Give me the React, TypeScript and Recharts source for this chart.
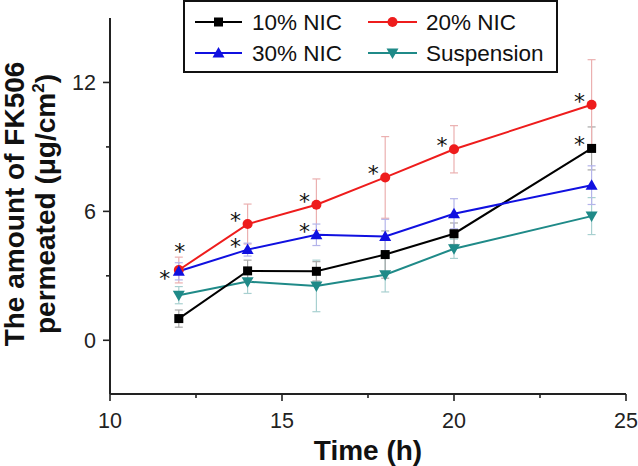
import React from 'react';
import { LineChart, Line, XAxis, YAxis, ErrorBar } from 'recharts';

const times = [12, 14, 16, 18, 20, 24];
const nic10 = [1.01, 3.23, 3.21, 3.99, 4.96, 8.93];
const nic10Err = [0.4, 0.5, 0.45, 1.1, 0.5, 1.0];
const nic20 = [3.27, 5.41, 6.31, 7.58, 8.89, 10.96];
const nic20Err = [0.6, 0.93, 1.2, 1.9, 1.1, 2.1];
const nic30 = [3.21, 4.22, 4.91, 4.83, 5.89, 7.22];
const nic30Err = [0.4, 0.3, 0.5, 0.8, 0.7, 0.9];
const susp = [2.1, 2.73, 2.53, 3.05, 4.26, 5.78];
const suspErr = [0.4, 0.55, 1.2, 0.8, 0.45, 0.86];

const star10 = [false, false, false, false, false, true];
const star20 = [true, true, true, true, true, true];
const star30 = [true, true, true, false, false, false];
const starSusp = [false, false, false, false, false, false];

const xTicks = [10, 12.5, 15, 17.5, 20, 22.5, 25];
const xMajor = [10, 15, 20, 25];
const yTicks = [0, 3, 6, 9, 12];
const yMajor = [0, 6, 12];

const seriesNames = ['10% NIC', '20% NIC', '30% NIC', 'Suspension'];

const data = times.map((t, i) => ({
  t,
  a: nic10[i], aErr: nic10Err[i],
  b: nic20[i], bErr: nic20Err[i],
  c: nic30[i], cErr: nic30Err[i],
  d: susp[i], dErr: suspErr[i],
}));

const COLORS = { a: '#000000', b: '#ee1c1c', c: '#1010e0', d: '#1f8a88' };
const ERR = { a: '#a8a8a8', b: '#ebb0b0', c: '#b4b4ea', d: '#a8d0d0' };

const FONT = 'Liberation Sans, Arial, sans-serif';

function Marker({ kind, cx, cy, color }: any) {
  if (kind === 'a') return <rect x={cx - 4.5} y={cy - 4.5} width={9} height={9} fill={color} />;
  if (kind === 'b') return <circle cx={cx} cy={cy} r={5} fill={color} />;
  if (kind === 'c') return <path d={`M${cx},${cy - 6} L${cx + 6},${cy + 4.5} L${cx - 6},${cy + 4.5} Z`} fill={color} />;
  return <path d={`M${cx - 6},${cy - 4.5} L${cx + 6},${cy - 4.5} L${cx},${cy + 6} Z`} fill={color} />;
}

function starOffset(kind: string, index: number) {
  if (kind === 'b' && index === 0) return [1, -24];
  if (kind === 'c' && index === 0) return [-14, 2];
  return [-12, -9];
}

const makeDot = (kind: string, stars: boolean[]) => (props: any) => {
  const { cx, cy, index } = props;
  if (cx == null || cy == null) return <g key={`${kind}${index}`} />;
  const starred = stars[index];
  const [dx, dy] = starOffset(kind, index);
  const fs = 22;
  return (
    <g key={`${kind}${index}`}>
      <Marker kind={kind} cx={cx} cy={cy} color={(COLORS as any)[kind]} />
      {starred && (
        <text x={cx + dx} y={cy + dy + 0.59 * fs} textAnchor="middle" fontSize={fs} fontFamily="DejaVu Sans, sans-serif" fill="#111">*</text>
      )}
    </g>
  );
};

const XTick = (props: any) => {
  const { x, y, payload } = props;
  const major = xMajor.includes(payload.value);
  return (
    <g>
      <line x1={x} x2={x} y1={y} y2={y + (major ? 7 : 4)} stroke="#222" strokeWidth={1.6} />
      {major && (
        <text x={x} y={y + 34} textAnchor="middle" fontSize={21.5} fontFamily={FONT} fill="#222">{payload.value}</text>
      )}
    </g>
  );
};

const YTick = (props: any) => {
  const { x, y, payload } = props;
  const major = yMajor.includes(payload.value);
  return (
    <g>
      <line x1={x} x2={x - (major ? 7 : 4)} y1={y} y2={y} stroke="#222" strokeWidth={1.6} />
      {major && (
        <text x={x - 14} y={y + 7.5} textAnchor="end" fontSize={21.5} fontFamily={FONT} fill="#222">{payload.value}</text>
      )}
    </g>
  );
};

function LegendBox() {
  const items = [
    { kind: 'a', name: seriesNames[0], lx: 195, rx: 242, tx: 252, y: 22 },
    { kind: 'b', name: seriesNames[1], lx: 368, rx: 417, tx: 426, y: 22 },
    { kind: 'c', name: seriesNames[2], lx: 195, rx: 242, tx: 252, y: 53 },
    { kind: 'd', name: seriesNames[3], lx: 368, rx: 417, tx: 426, y: 53 },
  ];
  return (
    <svg width={638} height={80} style={{ position: 'absolute', left: 0, top: 0 }}>
      <rect x={184} y={1} width={373} height={71} fill="#fff" stroke="#111" strokeWidth={2} />
      {items.map((it) => (
        <g key={it.kind}>
          <line x1={it.lx} x2={it.rx} y1={it.y} y2={it.y} stroke={(COLORS as any)[it.kind]} strokeWidth={2} />
          <Marker kind={it.kind} cx={(it.lx + it.rx) / 2} cy={it.y} color={(COLORS as any)[it.kind]} />
          <text x={it.tx} y={it.y + 8} fontSize={22.5} fontFamily={FONT} fill="#111">{it.name}</text>
        </g>
      ))}
    </svg>
  );
}

export default function App() {
  const series: [string, boolean[]][] = [['d', starSusp], ['a', star10], ['b', star20], ['c', star30]];
  return (
    <div style={{ position: 'absolute', left: 0, top: 0, width: 638, height: 466, background: '#fff' }}>
      <LineChart width={638} height={466} data={data} margin={{ top: 18, right: 12, bottom: 0, left: 0 }}>
        <XAxis
          dataKey="t"
          type="number"
          domain={[10, 25]}
          ticks={xTicks}
          interval={0}
          height={72}
          tickSize={0}
          tickMargin={0}
          tickLine={false}
          tick={<XTick />}
          axisLine={{ stroke: '#222', strokeWidth: 2 }}
          allowDecimals
        />
        <YAxis
          type="number"
          domain={[-2.5, 15]}
          ticks={yTicks}
          interval={0}
          width={110}
          tickSize={0}
          tickMargin={0}
          tickLine={false}
          tick={<YTick />}
          axisLine={{ stroke: '#222', strokeWidth: 2 }}
        />
        {series.map(([k, stars]) => (
          <Line
            key={k}
            type="linear"
            dataKey={k}
            stroke={(COLORS as any)[k]}
            strokeWidth={2}
            dot={makeDot(k, stars)}
            activeDot={false}
            isAnimationActive={false}
          >
            <ErrorBar dataKey={`${k}Err`} direction="y" width={4} stroke={(ERR as any)[k]} strokeWidth={1.2} isAnimationActive={false} />
          </Line>
        ))}
      </LineChart>
      <LegendBox />
      <svg width={638} height={466} style={{ position: 'absolute', left: 0, top: 0, pointerEvents: 'none' }}>
        <text transform="translate(24,204) rotate(-90)" textAnchor="middle" fontSize={28} fontWeight="bold" fontFamily={FONT} fill="#111">The amount of FK506</text>
        <text transform="translate(55,204) rotate(-90)" textAnchor="middle" fontSize={28} fontWeight="bold" fontFamily={FONT} fill="#111">
          permeated (μg/cm<tspan fontSize={17} dy={-11}>2</tspan><tspan dy={11}>)</tspan>
        </text>
        <text x={368} y={460} textAnchor="middle" fontSize={28} fontWeight="bold" fontFamily={FONT} fill="#111">Time (h)</text>
      </svg>
    </div>
  );
}
